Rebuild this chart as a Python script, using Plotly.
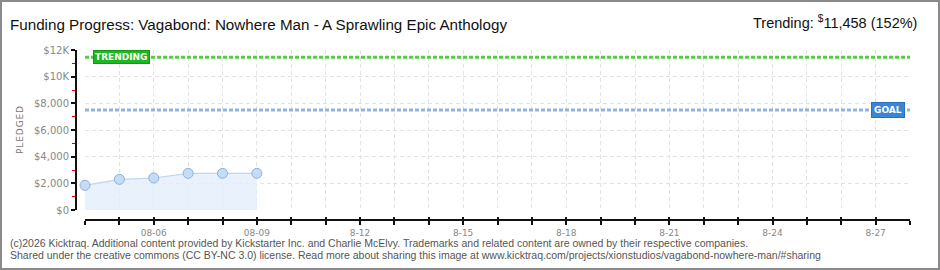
import plotly.graph_objects as go
import pandas as pd

# ---------------- data ----------------
dates = ["2025-08-04", "2025-08-05", "2025-08-06", "2025-08-07", "2025-08-08", "2025-08-09"]
pledged = [1850, 2300, 2400, 2750, 2750, 2750]
goal = 7500
trending = 11458
x_start, x_end = "2025-08-04", "2025-08-28"
label_days = {"2025-08-06": "08-06", "2025-08-09": "08-09", "2025-08-12": "8-12",
              "2025-08-15": "8-15", "2025-08-18": "8-18", "2025-08-21": "8-21",
              "2025-08-24": "8-24", "2025-08-27": "8-27"}
y_tickvals = [0, 2000, 4000, 6000, 8000, 10000, 12000]
y_ticktext = ["$0", "$2,000", "$4,000", "$6,000", "$8,000", "$10K", "$12K"]
title_text = "Funding Progress: Vagabond: Nowhere Man - A Sprawling Epic Anthology"
trend_text = "Trending: <sup>$</sup>11,458 (152%)"
footer1 = "(c)2026 Kicktraq. Additional content provided by Kickstarter Inc. and Charlie McElvy. Trademarks and related content are owned by their respective companies."
footer2 = "Shared under the creative commons (CC BY-NC 3.0) license. Read more about sharing this image at www.kicktraq.com/projects/xionstudios/vagabond-nowhere-man/#sharing"

all_days = [d.strftime("%Y-%m-%d") for d in pd.date_range(x_start, x_end)]
x_ticktext = [label_days.get(d, " ") for d in all_days]

W, H = 940, 270
L, R, T, B = 76, 30, 50, 50
PW, PH = W - L - R, H - T - B
def px(x):
    return (x - L) / PW
def py(y):
    return (H - B - y) / PH

FONT = "Liberation Sans, Arial, sans-serif"
SMALL = "DejaVu Sans, sans-serif"

fig = go.Figure()

fig.add_trace(go.Scatter(
    x=[x_start, x_end], y=[trending, trending], mode="lines",
    line=dict(color="#55cc44", width=3, dash="4px,2px"), hoverinfo="skip", showlegend=False))
fig.add_trace(go.Scatter(
    x=[x_start, x_end], y=[goal, goal], mode="lines",
    line=dict(color="#8fb3e0", width=3, dash="4px,2px"), hoverinfo="skip", showlegend=False))
fig.add_trace(go.Scatter(
    x=dates, y=pledged, mode="lines+markers", fill="tozeroy",
    fillcolor="rgba(228,238,251,0.8)", cliponaxis=False,
    line=dict(color="#bcd5f2", width=1.2),
    marker=dict(size=10, color="#c5dcf6", line=dict(color="#8cb0da", width=1)),
    showlegend=False))
# overlay axis for inward ticks
fig.add_trace(go.Scatter(x=[x_start], y=[0], xaxis="x2", mode="markers",
                         marker=dict(opacity=0), hoverinfo="skip", showlegend=False))

xdom0 = (85 - L) / PW
ydom0 = 10 / PH

fig.update_layout(
    width=W, height=H, margin=dict(l=L, r=R, t=T, b=B),
    paper_bgcolor="white", plot_bgcolor="white",
    xaxis=dict(
        type="date", range=[x_start, x_end], domain=[xdom0, 1],
        anchor="free", position=0,
        tickvals=all_days, ticktext=x_ticktext,
        showgrid=True, gridcolor="#e2e2e2", griddash="4px,3px", gridwidth=1,
        showline=True, linecolor="#111", linewidth=2,
        ticks="outside", ticklen=4, tickcolor="#111", tickwidth=2,
        tickfont=dict(family=SMALL, size=9, color="#888"),
        zeroline=False, fixedrange=True,
    ),
    xaxis2=dict(
        type="date", range=[x_start, x_end], domain=[xdom0, 1],
        anchor="free", position=0, overlaying="x",
        tickvals=all_days, showticklabels=False, showgrid=False,
        ticks="inside", ticklen=3, tickcolor="#111", tickwidth=2, showline=False,
    ),
    yaxis=dict(
        range=[0, 12000], domain=[ydom0, 1], anchor="free", position=0,
        tickvals=y_tickvals, ticktext=y_ticktext,
        showgrid=True, gridcolor="#e2e2e2", griddash="4px,3px", gridwidth=1,
        showline=True, linecolor="#111", linewidth=2,
        ticks="outside", ticklen=4, tickcolor="#111", tickwidth=2,
        minor=dict(dtick=1000, tick0=1000, ticks="outside", ticklen=3,
                   tickcolor="#e00000", tickwidth=1, showgrid=False),
        tickfont=dict(family=SMALL, size=10, color="#888"),
        zeroline=False, fixedrange=True,
    ),
    shapes=[dict(type="rect", xref="paper", yref="paper",
                 x0=px(1), x1=px(939), y0=py(269), y1=py(1),
                 line=dict(color="#8a8a8a", width=2), fillcolor="rgba(0,0,0,0)")],
    annotations=[
        dict(text=title_text, xref="paper", yref="paper", x=px(8), y=py(24),
             xanchor="left", yanchor="middle", showarrow=False,
             font=dict(family=FONT, size=15.2, color="#111")),
        dict(text=trend_text, xref="paper", yref="paper", x=px(919), y=py(22),
             xanchor="right", yanchor="middle", showarrow=False,
             font=dict(family=FONT, size=14.5, color="#111")),
        dict(text="P\u200aL\u200aE\u200aD\u200aG\u200aE\u200aD", xref="paper", yref="paper",
             x=px(20), y=py(130), textangle=-90, showarrow=False,
             xanchor="center", yanchor="middle",
             font=dict(family=SMALL, size=9, color="#777")),
        dict(text="<b>TRENDING</b>", xref="x domain", yref="y", x=(93 - 85) / 824, y=trending,
             xanchor="left", yanchor="middle", showarrow=False,
             bgcolor="#1db81d", bordercolor="#139913", borderwidth=1, borderpad=1,
             font=dict(family=SMALL, size=9, color="white")),
        dict(text="<b>GOAL</b>", xref="x domain", yref="y", x=(904 - 85) / 824, y=goal,
             xanchor="right", yanchor="middle", showarrow=False,
             bgcolor="#3a86d6", bordercolor="#2a6fb8", borderwidth=1, borderpad=2,
             font=dict(family=SMALL, size=9, color="white")),
        dict(text=footer1, xref="paper", yref="paper", x=px(8), y=py(243),
             xanchor="left", yanchor="middle", showarrow=False,
             font=dict(family=FONT, size=10.5, color="#555")),
        dict(text=footer2, xref="paper", yref="paper", x=px(8), y=py(255),
             xanchor="left", yanchor="middle", showarrow=False,
             font=dict(family=FONT, size=10.5, color="#555")),
    ],
)

fig.write_html("out.html")
